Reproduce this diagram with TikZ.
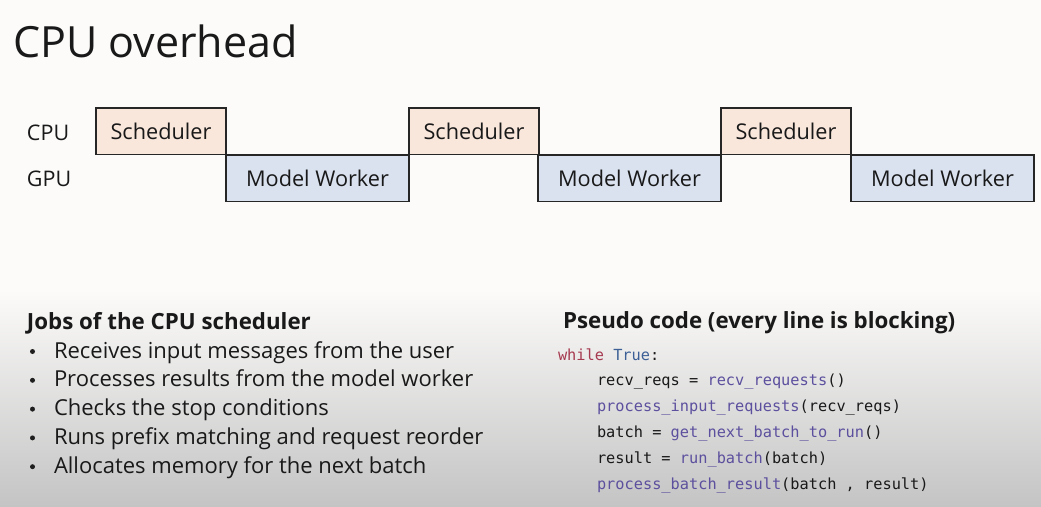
\documentclass[tikz,border=0pt]{standalone}
\usepackage{fontspec}
\setmainfont{Open Sans}
\newfontfamily\codefont{DejaVu Sans Mono}
\begin{document}
\begin{tikzpicture}[x=1pt,y=-1pt,
  every node/.style={inner sep=0pt, outer sep=0pt, text=black!90},
  lane/.style={font=\fontsize{21.5}{24}\selectfont, anchor=base west},
  block/.style={draw=black!85, line width=1.3pt, anchor=north west,
    minimum height=46.5pt, font=\fontsize{21.7}{24}\selectfont},
  schedbox/.style={block, fill=schedfill, minimum width=130pt},
  workerbox/.style={block, fill=workerfill, minimum width=183pt},
  heading/.style={anchor=base west, font=\fontsize{22.3}{26}\bfseries\selectfont},
  bullettext/.style={anchor=base west, font=\fontsize{22}{26}\selectfont},
  bulletdot/.style={circle, fill=black!88, minimum size=5pt},
  codeline/.style={anchor=base west, font=\codefont\fontsize{15.3}{18}\selectfont}]
\definecolor{schedfill}{RGB}{249,231,220}
\definecolor{workerfill}{RGB}{218,226,240}
\definecolor{kwred}{RGB}{166,58,80}
\definecolor{kwblue}{RGB}{60,96,150}
\definecolor{fnpurple}{RGB}{92,80,158}

% page background with the soft grey fade at the bottom
\fill[color={rgb,255:red,252;green,251;blue,250}] (0,0) rectangle (1041,506);
\shade[top color={rgb,255:red,252;green,251;blue,250},
       bottom color={rgb,255:red,196;green,196;blue,196}] (0,290) rectangle (1041,506);
\useasboundingbox (0,0) rectangle (1041,506);

% title
\node[anchor=base west, font=\fontsize{43}{50}\selectfont] (title) at (13,57) {CPU overhead};

% timeline lanes
\node[lane] (cpu) at (27,140) {CPU};
\node[lane] (gpu) at (27,186) {GPU};

\node[schedbox]  (s1) at (96,108)  {Scheduler};
\node[workerbox] (w1) at (226,155) {Model Worker};
\node[schedbox]  (s2) at (409,108) {Scheduler};
\node[workerbox] (w2) at (538,155) {Model Worker};
\node[schedbox]  (s3) at (721,108) {Scheduler};
\node[workerbox] (w3) at (851,155) {Model Worker};

% jobs list
\node[heading] (jobs) at (27,329) {Jobs of the CPU scheduler};
\foreach \i/\t in {0/Receives input messages from the user,
                   1/Processes results from the model worker,
                   2/Checks the stop conditions,
                   3/Runs prefix matching and request reorder,
                   4/Allocates memory for the next batch}{
  \node[bulletdot] (b\i) at (32.5,{351.5+28.8*\i}) {};
  \node[bullettext] (j\i) at (54,{358+28.8*\i}) {\t};
}

% pseudo code
\node[heading] (pseudo) at (563,328) {Pseudo code (every line is blocking)};
\node[codeline] (c0) at (558,360) {\textcolor{kwred}{while} \textcolor{kwblue}{True}:};
\node[codeline] (c1) at (597,385) {recv\_reqs = \textcolor{fnpurple}{recv\_requests}()};
\node[codeline] (c2) at (597,411) {\textcolor{fnpurple}{process\_input\_requests}(recv\_reqs)};
\node[codeline] (c3) at (597,437) {batch = \textcolor{fnpurple}{get\_next\_batch\_to\_run}()};
\node[codeline] (c4) at (597,463) {result = \textcolor{fnpurple}{run\_batch}(batch)};
\node[codeline] (c5) at (597,489) {\textcolor{fnpurple}{process\_batch\_result}(batch , result)};
\end{tikzpicture}
\end{document}
